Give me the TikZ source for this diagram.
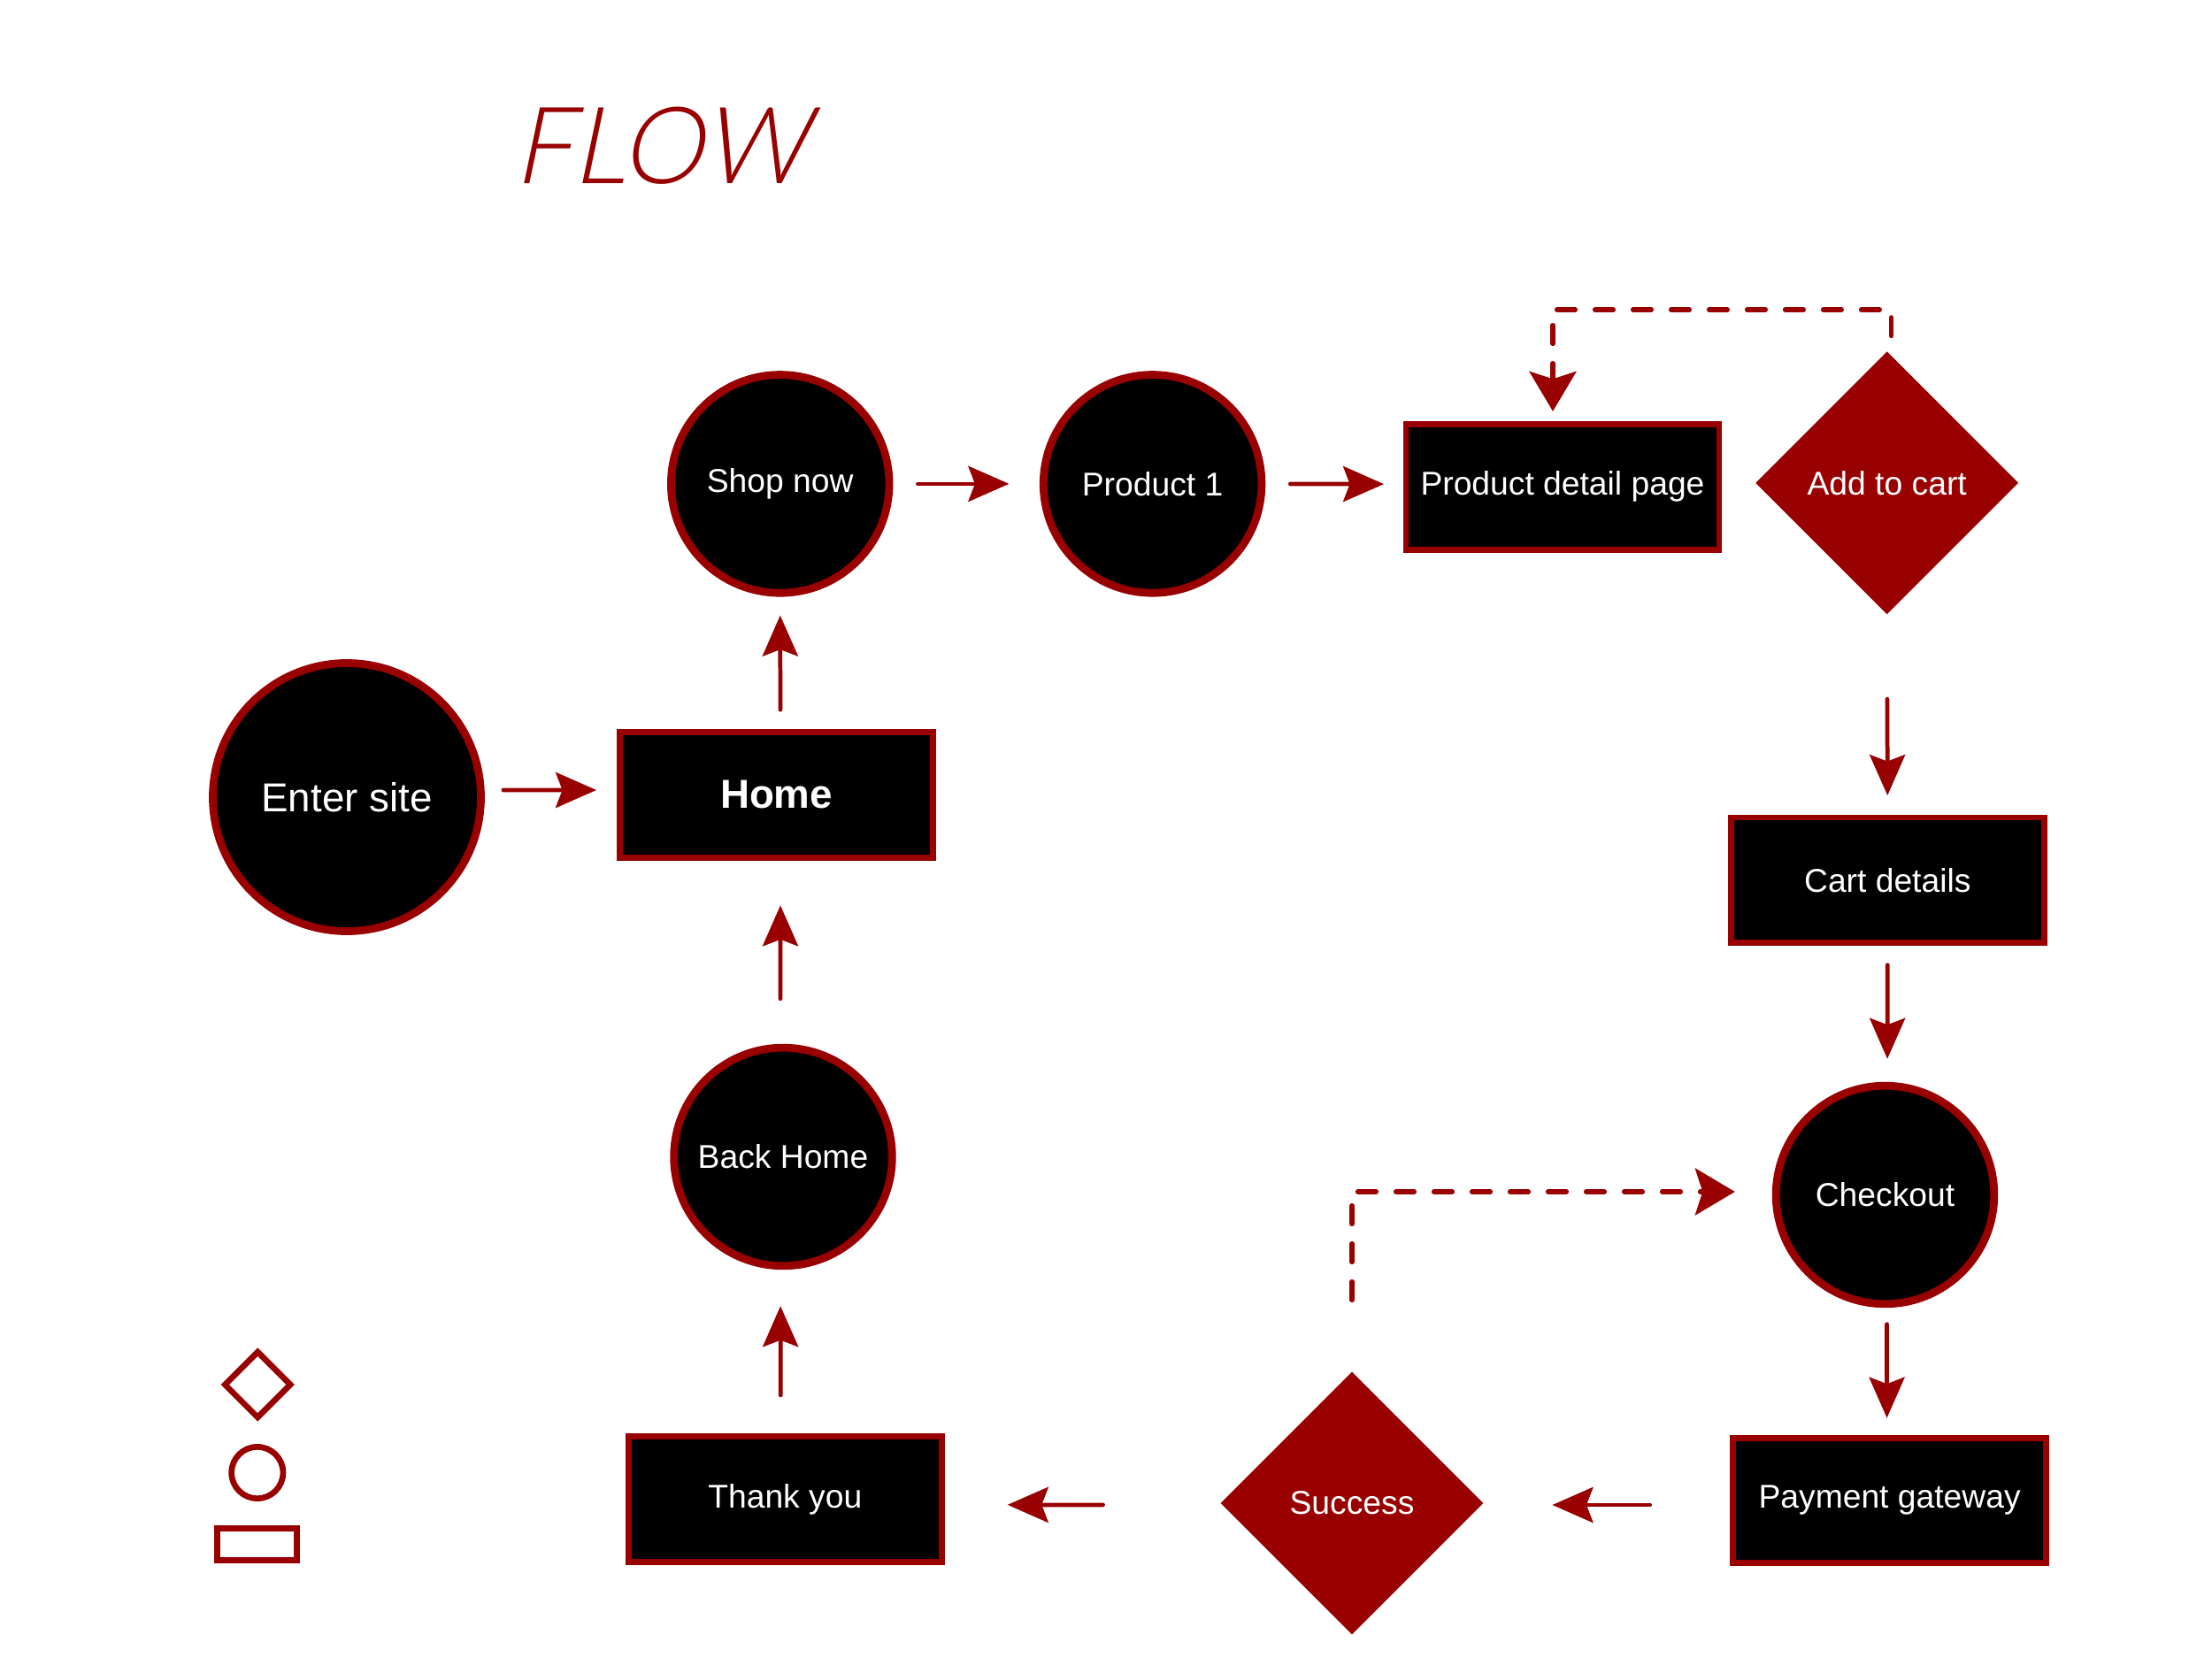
\documentclass[tikz,border=0pt]{standalone}
\usepackage{fontspec}
\setmainfont{Liberation Sans}
\newfontfamily\titlefont{Lato Light}[FakeSlant=0.21, FakeStretch=0.97]
\usetikzlibrary{arrows.meta,shapes.geometric,calc}
\definecolor{dred}{HTML}{990000}
\tikzset{
  nodetext/.style={text=white, font=\fontsize{10.6}{12}\selectfont},
  circnode/.style={circle, draw=dred, line width=2.5pt, fill=black, nodetext, minimum size=2.466cm, inner sep=0pt},
  bigcirc/.style={circnode, minimum size=3.03cm, font=\fontsize{13}{15}\selectfont},
  boxnode/.style={rectangle, draw=dred, line width=1.95pt, fill=black, nodetext, minimum width=3.54cm, minimum height=1.418cm, inner sep=0pt},
  decnode/.style={diamond, draw=none, fill=dred, nodetext, minimum width=2.975cm, minimum height=2.975cm, inner sep=0pt, aspect=1},
  flowarr/.style={draw=dred, line width=1.35pt, line cap=round, -{Stealth[length=4.6mm, width=4.0mm, inset=0.75mm]}},
  dasharr/.style={draw=dred, line width=1.45pt, line cap=round, dash pattern=on 0.21cm off 0.22cm, -{Stealth[length=4.5mm, width=5.3mm, inset=0.85mm]}},
  legend/.style={draw=dred, line width=1.9pt, fill=white, inner sep=0pt}
}
\begin{document}
\begin{tikzpicture}
\useasboundingbox (0,0) rectangle (25,-18.74);
% title
\node[anchor=base west, inner sep=0pt, text=dred, font=\titlefont\fontsize{34.4}{36}\selectfont] (title) at (5.80,-2.073) {FLOW};
% nodes
\node[bigcirc] (enter) at (3.92,-9.01) {Enter site};
\node[boxnode, font=\fontsize{13}{15}\selectfont\bfseries] (home) at (8.775,-8.985) {Home};
\node[circnode] (shop) at (8.817,-5.469) {Shop now};
\node[circnode] (prod) at (13.026,-5.469) {Product 1};
\node[boxnode] (pdp) at (17.66,-5.502) {Product detail page};
\node[decnode] (add) at (21.327,-5.458) {Add to cart};
\node[boxnode] (cart) at (21.333,-9.949) {Cart details};
\node[circnode] (checkout) at (21.305,-13.505) {Checkout};
\node[boxnode] (pay) at (21.356,-16.96) {Payment gateway};
\node[decnode] (success) at (15.28,-16.99) {Success};
\node[boxnode] (thank) at (8.873,-16.948) {Thank you};
\node[circnode] (back) at (8.85,-13.075) {Back Home};
% legend
\node[legend, diamond, aspect=1, minimum width=0.766cm, minimum height=0.766cm] (lgdiamond) at (2.912,-15.65) {};
\node[legend, circle, minimum size=0.583cm] (lgcircle) at (2.908,-16.645) {};
\node[legend, rectangle, minimum width=0.90cm, minimum height=0.36cm] (lgrect) at (2.908,-17.458) {};
% connectors
\draw[flowarr, shorten <=0.21cm, shorten >=0.23cm] ([yshift=0.08cm]enter.east) -- ([yshift=0.055cm]home.west);
\draw[flowarr, shorten <=0.22cm, shorten >=0.21cm] ([xshift=0.045cm]home.north) -- (shop.south);
\draw[flowarr, shorten <=0.28cm, shorten >=0.345cm] (shop) -- (prod);
\draw[flowarr, shorten <=0.28cm, shorten >=0.215cm] (prod.east) -- ([yshift=0.03cm]pdp.west);
\draw[flowarr, shorten <=0.95cm, shorten >=0.215cm] (add.south) -- (cart.north);
\draw[flowarr, shorten <=0.215cm, shorten >=0.26cm] (cart.south) -- ([xshift=0.025cm]checkout.north);
\draw[flowarr, shorten <=0.185cm, shorten >=0.19cm] ([xshift=0.02cm]checkout.south) -- ([xshift=-0.03cm]pay.north);
\draw[flowarr, shorten <=0.905cm, shorten >=0.77cm] ([yshift=-0.05cm]pay.west) -- ([yshift=-0.02cm]success.east);
\draw[flowarr, shorten <=1.32cm, shorten >=0.71cm] ([yshift=-0.02cm]success.west) -- ([yshift=-0.06cm]thank.east);
\draw[flowarr, shorten <=0.435cm, shorten >=0.41cm] ([xshift=-0.05cm]thank.north) -- ([xshift=-0.03cm]back.south);
\draw[flowarr, shorten <=0.51cm, shorten >=0.505cm] ([xshift=-0.03cm]back.north) -- ([xshift=0.045cm]home.south);
\coordinate (topy) at (0,-3.50);
\draw[dasharr, shorten <=0.166cm, shorten >=0.11cm] ([xshift=0.05cm]add.north) -- ([xshift=0.05cm]add.north |- topy) -| ([xshift=-0.11cm]pdp.north);
\draw[dasharr, shorten <=0.80cm, shorten >=0.42cm] (success.north) |- ([yshift=0.035cm]checkout.west);
\end{tikzpicture}
\end{document}
